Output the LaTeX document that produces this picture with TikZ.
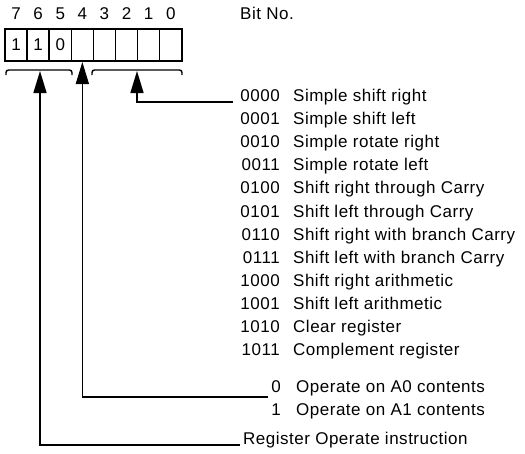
\documentclass[tikz,border=0pt]{standalone}
\usepackage{fontspec}
\setmainfont{Liberation Sans}
\newfontfamily\lblfont[LetterSpace=3]{Liberation Sans}
\usetikzlibrary{arrows.meta}
\begin{document}
\begin{tikzpicture}[x=1pt,y=-1pt,
  txt/.style={inner sep=0pt, font=\lblfont\fontsize{17}{19}\selectfont},
  code/.style={txt, anchor=base east},
  desc/.style={txt, anchor=base west},
  cell/.style={draw, line width=1.5pt, minimum width=22.1pt, minimum height=32pt, inner sep=0pt, txt},
  wire/.style={line width=1.6pt},
  pointer/.style={wire, -{Triangle[width=13pt,length=22pt]}},
  bracestyle/.style={line width=1.4pt, rounded corners=2.5pt}
]
\useasboundingbox (0,0) rectangle (525,453);
% register cells
\foreach \b/\v [count=\i from 0] in {7/1,6/1,5/0,4/,3/,2/,1/,0/} {
  \node[cell] (c\b) at ({16.05+22.1*\i},45) {\v};
  \node[txt, anchor=base] (b\b) at ({16.05+22.1*\i},19) {\b};
}
\node[txt, anchor=base west] (bitno) at (240,19) {Bit No.};
% braces
\coordinate (lbA) at (6,75); \coordinate (lbB) at (6,70);
\coordinate (lbC) at (72,70); \coordinate (lbD) at (72,75);
\draw[bracestyle] (lbA) -- (lbB) -- (lbC) -- (lbD);
\coordinate (rbA) at (92,75); \coordinate (rbB) at (92,70);
\coordinate (rbC) at (182,70); \coordinate (rbD) at (182,75);
\draw[bracestyle] (rbA) -- (rbB) -- (rbC) -- (rbD);
\coordinate (tip6) at (40,71);
\coordinate (tip4) at (82.35,62);
\coordinate (tipR) at (137,71);
% texts
\foreach \c/\d [count=\i from 0] in {0000/Simple shift right,0001/Simple shift left,0010/Simple rotate right,0011/Simple rotate left,0100/Shift right through Carry,0101/Shift left through Carry,0110/Shift right with branch Carry,0111/Shift left with branch Carry,1000/Shift right arithmetic,1001/Shift left arithmetic,1010/Clear register,1011/Complement register} {
  \node[code] (k\i) at (280,{101.5+23.1*\i}) {\c};
  \node[desc] (d\i) at (293,{101.5+23.1*\i}) {\d};
}
\node[code] (ka) at (281,392.5) {0};
\node[desc] (da) at (296,392.5) {Operate on A0 contents};
\node[code] (kb) at (281,415.5) {1};
\node[desc] (db) at (296,415.5) {Operate on A1 contents};
\node[desc] (reg) at (243,444.5) {Register Operate instruction};
% connectors
\coordinate (eR) at (233,102);
\coordinate (cR) at (137,102);
\draw[pointer] (eR) -- (cR) -- (tipR);
\coordinate (e4) at (268,397);
\coordinate (c4) at (82.35,397);
\draw[pointer] (e4) -- (c4) -- (tip4);
\coordinate (e6) at (240,445);
\coordinate (c6) at (40,445);
\draw[pointer] (e6) -- (c6) -- (tip6);
\end{tikzpicture}
\end{document}
